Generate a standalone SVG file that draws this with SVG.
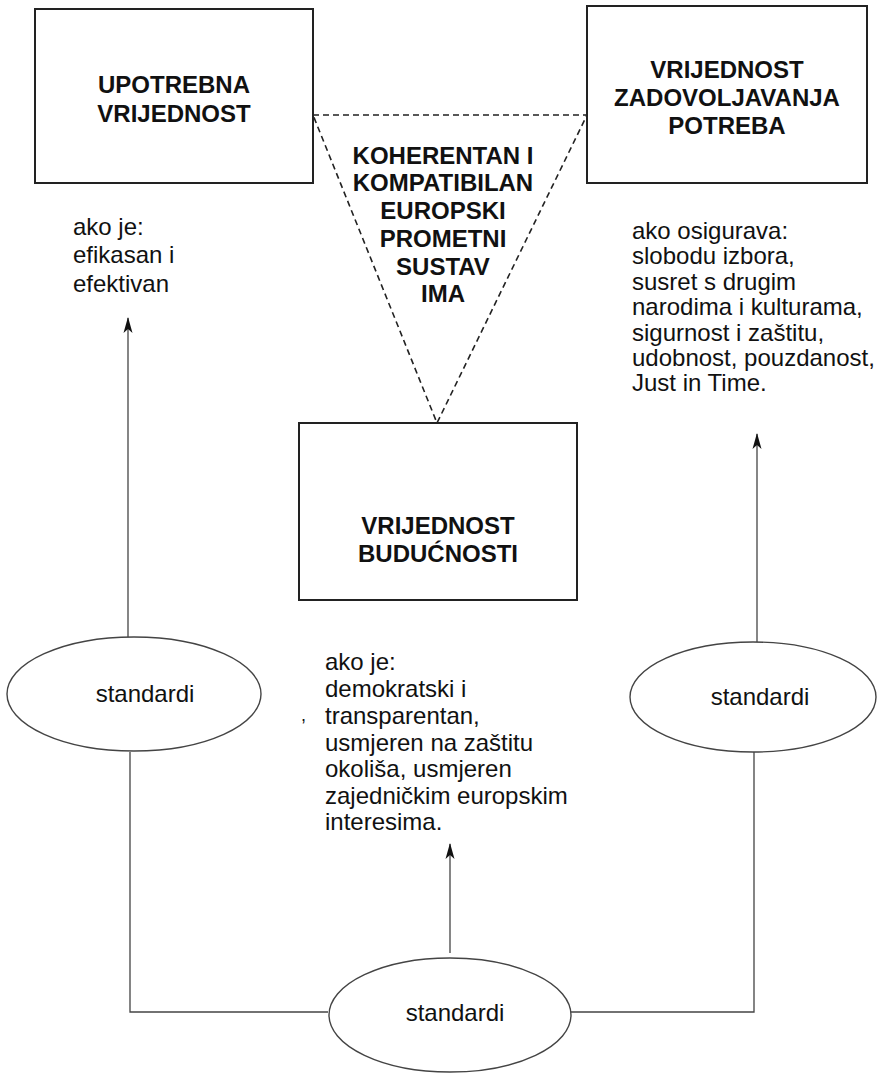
<svg xmlns="http://www.w3.org/2000/svg" width="882" height="1074" viewBox="0 0 882 1074">
<defs>
<marker id="arr" markerWidth="16" markerHeight="10" refX="15" refY="5" orient="auto" markerUnits="userSpaceOnUse" viewBox="0 0 16 10">
<path d="M16,5 L0,0.5 L4,5 L0,9.5 Z" fill="#111"/>
</marker>
<style>
.box{fill:#fff;stroke:#222;stroke-width:2}
.ell{fill:none;stroke:#444;stroke-width:1.4}
.con{fill:none;stroke:#444;stroke-width:1.3}
.tri{fill:none;stroke:#222;stroke-width:1.6;stroke-dasharray:6 4}
.bold{font-family:"Liberation Sans",Arial,sans-serif;font-weight:bold;font-size:24px;fill:#111;text-anchor:middle}
.reg{font-family:"Liberation Sans",Arial,sans-serif;font-size:24px;fill:#111}
.mid{text-anchor:middle}
</style>
</defs>
<rect width="882" height="1074" fill="#fff"/>

<g id="connectors">
<path class="tri" d="M313,115 L587,115 L437,423 Z"/>
<line class="con" x1="128" y1="637" x2="128" y2="318" marker-end="url(#arr)"/>
<line class="con" x1="757" y1="642" x2="757" y2="434" marker-end="url(#arr)"/>
<line class="con" x1="450" y1="953" x2="450" y2="844" marker-end="url(#arr)"/>
<polyline class="con" points="130,752 130,1012 328,1012"/>
<polyline class="con" points="754,752 754,1012 571,1012"/>
</g>

<g id="upotrebna">
<rect class="box" x="35" y="9" width="278" height="174"/>
<text class="bold" x="174" y="93">UPOTREBNA</text>
<text class="bold" x="174" y="122">VRIJEDNOST</text>
</g>

<g id="zadovoljavanje">
<rect class="box" x="587" y="6" width="280" height="177"/>
<text class="bold" x="727" y="78">VRIJEDNOST</text>
<text class="bold" x="727" y="106">ZADOVOLJAVANJA</text>
<text class="bold" x="727" y="134">POTREBA</text>
</g>

<g id="sustav">
<text class="bold" x="443" y="164">KOHERENTAN I</text>
<text class="bold" x="443" y="191">KOMPATIBILAN</text>
<text class="bold" x="443" y="219">EUROPSKI</text>
<text class="bold" x="443" y="247">PROMETNI</text>
<text class="bold" x="443" y="275">SUSTAV</text>
<text class="bold" x="443" y="302">IMA</text>
</g>

<g id="buducnost">
<rect class="box" x="299" y="423" width="278" height="177"/>
<text class="bold" x="438" y="534">VRIJEDNOST</text>
<text class="bold" x="438" y="562">BUDUĆNOSTI</text>
</g>

<g id="uvjet-lijevo">
<text class="reg" x="73" y="235">ako je:</text>
<text class="reg" x="73" y="263">efikasan i</text>
<text class="reg" x="73" y="292">efektivan</text>
</g>

<g id="uvjet-desno">
<text class="reg" x="632" y="239">ako osigurava:</text>
<text class="reg" x="632" y="264">slobodu izbora,</text>
<text class="reg" x="632" y="290">susret s drugim</text>
<text class="reg" x="632" y="315">narodima i kulturama,</text>
<text class="reg" x="632" y="341">sigurnost i zaštitu,</text>
<text class="reg" x="632" y="366">udobnost, pouzdanost,</text>
<text class="reg" x="632" y="391">Just in Time.</text>
</g>

<g id="uvjet-sredina">
<text class="reg" x="325" y="670">ako je:</text>
<text class="reg" x="325" y="697">demokratski i</text>
<text class="reg" x="325" y="724">transparentan,</text>
<text class="reg" x="325" y="751">usmjeren na zaštitu</text>
<text class="reg" x="325" y="777">okoliša, usmjeren</text>
<text class="reg" x="325" y="804">zajedničkim europskim</text>
<text class="reg" x="325" y="830">interesima.</text>
<text class="reg" x="301" y="721" style="font-size:18px">,</text>
</g>

<g id="standardi-lijevo">
<ellipse class="ell" cx="134" cy="694" rx="127" ry="57"/>
<text class="reg mid" x="145" y="702">standardi</text>
</g>

<g id="standardi-desno">
<ellipse class="ell" cx="753" cy="697" rx="123" ry="55"/>
<text class="reg mid" x="760" y="705">standardi</text>
</g>

<g id="standardi-dolje">
<ellipse class="ell" cx="450" cy="1015" rx="121" ry="57"/>
<text class="reg mid" x="455" y="1021">standardi</text>
</g>
</svg>
